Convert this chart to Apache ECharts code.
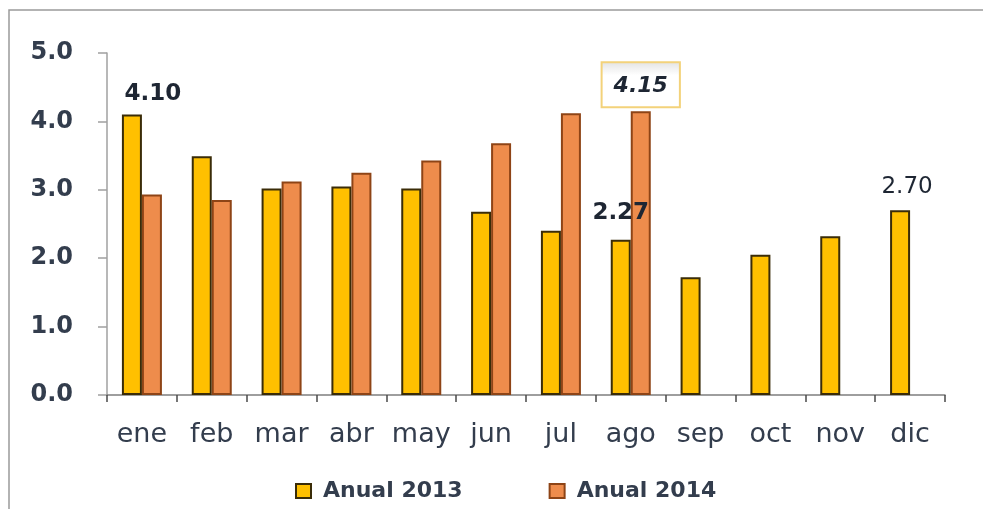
<!DOCTYPE html>
<html>
<head>
<meta charset="utf-8">
<script src="https://cdn.jsdelivr.net/npm/echarts@6/dist/echarts.min.js"></script>
<style>
  html, body { margin: 0; padding: 0; background: #fff; }
</style>
</head>
<body>
<div id="chart" style="width: 983px; height: 509px"></div>
<script>
// datos
const months = ['ene', 'feb', 'mar', 'abr', 'may', 'jun', 'jul', 'ago', 'sep', 'oct', 'nov', 'dic']
const anual2013 = [4.10, 3.49, 3.02, 3.05, 3.02, 2.68, 2.40, 2.27, 1.72, 2.05, 2.32, 2.70]
const anual2014 = [2.93, 2.85, 3.12, 3.25, 3.43, 3.68, 4.12, 4.15, null, null, null, null]
const yTicks = [0, 1, 2, 3, 4, 5]

const font = 'DejaVu Sans'
const textColor = '#333d4d'
const fmt = p => p.value.toFixed(2)

// etiquetas destacadas (solo algunos puntos)
const data2013 = anual2013.map((v, i) => {
  if (i === 0) return { value: v, label: { show: true, offset: [21, -4], fontWeight: 'bold' } }
  if (i === 7) return { value: v, label: { show: true, offset: [0, -10], fontWeight: 'bold' } }
  if (i === 11) return { value: v, label: { show: true, offset: [7, -7], fontWeight: 'normal' } }
  return v
})
const data2014 = anual2014.map((v, i) => {
  if (i === 7) return {
    value: v,
    label: {
      show: true, fontWeight: 'bold', fontStyle: 'italic', distance: 5,
      padding: [12, 11, 9, 11],
      borderColor: '#f3d27a', borderWidth: 2,
      backgroundColor: {
        type: 'linear', x: 0, y: 0, x2: 0, y2: 1,
        colorStops: [{ offset: 0, color: '#e2e2e2' }, { offset: 0.3, color: '#ffffff' }, { offset: 1, color: '#ffffff' }]
      }
    }
  }
  return v
})

const chart = echarts.init(document.getElementById('chart'))

chart.setOption({
  backgroundColor: '#ffffff',
  animation: false,
  graphic: [{
    type: 'rect',
    shape: { x: 9, y: 10, width: 1100, height: 600 },
    style: { fill: 'none', stroke: '#9a9a9a', lineWidth: 1.5 },
    silent: true
  }],
  grid: { left: 107, right: 38, top: 53, bottom: 114 },
  legend: {
    bottom: 2,
    left: 290,
    itemGap: 86,
    itemWidth: 15,
    itemHeight: 14,
    icon: 'rect',
    textStyle: { fontFamily: font, fontSize: 22, fontWeight: 'bold', color: textColor, padding: [0, 0, 0, 7] },
    data: ['Anual 2013', 'Anual 2014']
  },
  xAxis: {
    type: 'category',
    data: months,
    axisLine: { lineStyle: { color: '#7f7f7f', width: 1.5 } },
    axisTick: { show: true, length: 7, lineStyle: { color: '#4a4a4a', width: 1.5 } },
    axisLabel: { fontFamily: font, fontSize: 27, color: textColor, margin: 26, interval: 0 }
  },
  yAxis: {
    type: 'value',
    min: yTicks[0],
    max: yTicks[yTicks.length - 1],
    interval: 1,
    splitLine: { show: false },
    axisLine: { show: true, lineStyle: { color: '#a0a0a0', width: 1.5 } },
    axisTick: { show: true, length: 9, lineStyle: { color: '#a0a0a0', width: 1.5 } },
    axisLabel: {
      fontFamily: font, fontSize: 24, fontWeight: 'bold', color: textColor, margin: 34,
      formatter: v => v.toFixed(1)
    }
  },
  series: [
    {
      name: 'Anual 2013',
      type: 'bar',
      data: data2013,
      barWidth: 20,
      barGap: '0%',
      itemStyle: { color: '#ffc000', borderColor: '#3a2c08', borderWidth: 2 },
      label: {
        show: false, position: 'top', formatter: fmt,
        fontFamily: font, fontSize: 23, color: '#1e2633'
      }
    },
    {
      name: 'Anual 2014',
      type: 'bar',
      data: data2014,
      barWidth: 20,
      barGap: '0%',
      itemStyle: { color: '#ee8c4c', borderColor: '#8e4416', borderWidth: 2 },
      label: {
        show: false, position: 'top', formatter: fmt,
        fontFamily: font, fontSize: 22, color: '#1e2633'
      }
    }
  ]
})
</script>
</body>
</html>
